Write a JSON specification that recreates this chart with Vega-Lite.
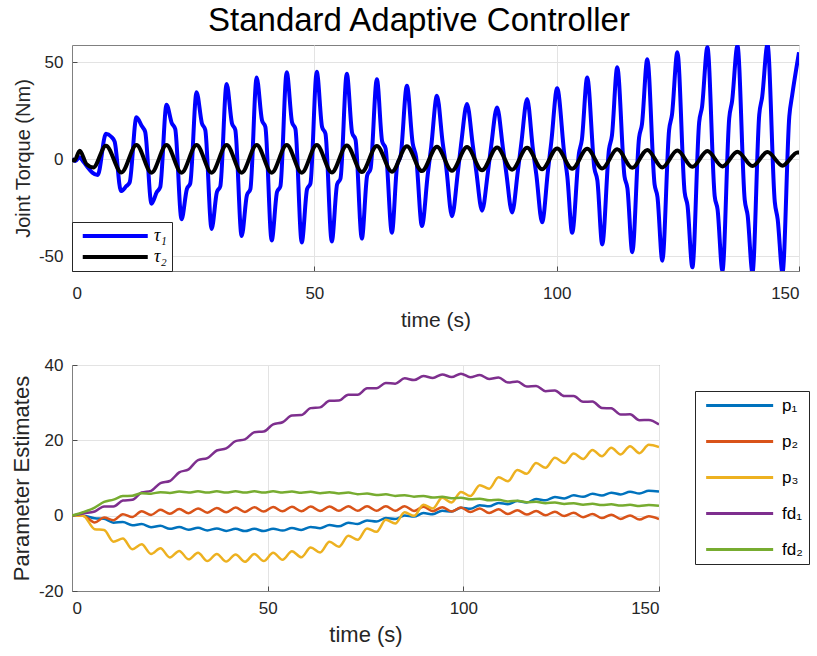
{
  "$schema": "https://vega.github.io/schema/vega-lite/v6.json",
  "background": "white",
  "padding": {"left": 9, "top": 4, "right": 5, "bottom": 5},
  "title": {"text": "Standard Adaptive Controller", "fontSize": 33, "font": "Liberation Sans", "fontWeight": "normal", "color": "#000000", "anchor": "middle", "offset": 7, "dx": 9},
  "config": {
    "font": "Liberation Sans",
    "view": {"stroke": "#808080", "strokeWidth": 1},
    "axis": {"labelFont": "Liberation Sans", "titleFont": "Liberation Sans", "labelFontSize": 17, "titleFontSize": 20, "titleFontWeight": "normal", "labelColor": "#262626", "titleColor": "#262626", "grid": true, "gridColor": "#e3e3e3", "domainColor": "#808080", "ticks": true, "tickSize": -5, "tickColor": "#4d4d4d", "labelPadding": 14},
    "axisX": {"titlePadding": 8},
    "axisY": {"titlePadding": 5}
  },
  "spacing": 24,
  "resolve": {"scale": {"color": "independent"}, "legend": {"color": "independent"}},
  "datasets": {
    "torque": [
      {"s":"τ₁","t":0,"v":0},{"s":"τ₁","t":0.7,"v":-1},{"s":"τ₁","t":1.5,"v":1},{"s":"τ₁","t":2.4,"v":-1.5},{"s":"τ₁","t":3.3,"v":-4.5},{"s":"τ₁","t":4.2,"v":-7},{"s":"τ₁","t":5.3,"v":-8.2},
      {"s":"τ₁","t":7.0,"v":13},{"s":"τ₁","t":8.1,"v":11.5},{"s":"τ₁","t":8.8,"v":9},{"s":"τ₁","t":10.1,"v":-16.5},{"s":"τ₁","t":11.2,"v":-14},{"s":"τ₁","t":11.9,"v":-12},
      {"s":"τ₁","t":13.3,"v":21.6},{"s":"τ₁","t":14.4,"v":17},{"s":"τ₁","t":15.1,"v":14},{"s":"τ₁","t":16.4,"v":-23},{"s":"τ₁","t":17.5,"v":-17},{"s":"τ₁","t":18.2,"v":-14.5},
      {"s":"τ₁","t":19.5,"v":28},{"s":"τ₁","t":20.6,"v":18.5},{"s":"τ₁","t":21.3,"v":15.5},{"s":"τ₁","t":22.6,"v":-31},{"s":"τ₁","t":23.7,"v":-15.5},{"s":"τ₁","t":24.4,"v":-12.5},
      {"s":"τ₁","t":25.7,"v":34.5},{"s":"τ₁","t":26.8,"v":18.5},{"s":"τ₁","t":27.5,"v":15},{"s":"τ₁","t":28.8,"v":-36},{"s":"τ₁","t":29.9,"v":-17},{"s":"τ₁","t":30.6,"v":-14},
      {"s":"τ₁","t":31.9,"v":38.7},{"s":"τ₁","t":33.0,"v":18.5},{"s":"τ₁","t":33.7,"v":15},{"s":"τ₁","t":35.0,"v":-39.7},{"s":"τ₁","t":36.1,"v":-18.5},{"s":"τ₁","t":36.8,"v":-15.5},
      {"s":"τ₁","t":38.1,"v":42},{"s":"τ₁","t":39.2,"v":20},{"s":"τ₁","t":39.9,"v":16.5},{"s":"τ₁","t":41.2,"v":-42},{"s":"τ₁","t":42.3,"v":-17},{"s":"τ₁","t":43.0,"v":-14},
      {"s":"τ₁","t":44.3,"v":44.8},{"s":"τ₁","t":45.4,"v":19},{"s":"τ₁","t":46.1,"v":15.5},{"s":"τ₁","t":47.4,"v":-43},{"s":"τ₁","t":48.5,"v":-15.5},{"s":"τ₁","t":49.2,"v":-12.5},
      {"s":"τ₁","t":50.5,"v":45},{"s":"τ₁","t":51.6,"v":16.5},{"s":"τ₁","t":52.3,"v":13},{"s":"τ₁","t":53.6,"v":-42.5},{"s":"τ₁","t":54.7,"v":-13},{"s":"τ₁","t":55.4,"v":-10},
      {"s":"τ₁","t":56.7,"v":44},{"s":"τ₁","t":57.8,"v":13.5},{"s":"τ₁","t":58.5,"v":10},{"s":"τ₁","t":59.8,"v":-41},{"s":"τ₁","t":60.9,"v":-8.5},{"s":"τ₁","t":61.6,"v":-5},
      {"s":"τ₁","t":62.9,"v":41.2},{"s":"τ₁","t":64.0,"v":9},{"s":"τ₁","t":64.7,"v":5.5},{"s":"τ₁","t":66.0,"v":-38},{"s":"τ₁","t":67.1,"v":-3},{"s":"τ₁","t":67.8,"v":1.5},
      {"s":"τ₁","t":69.1,"v":37.8},{"s":"τ₁","t":70.3,"v":8},{"s":"τ₁","t":71.0,"v":1},{"s":"τ₁","t":72.2,"v":-34.5},{"s":"τ₁","t":73.4,"v":-8},{"s":"τ₁","t":74.1,"v":6},
      {"s":"τ₁","t":75.3,"v":32.6},{"s":"τ₁","t":76.5,"v":8},{"s":"τ₁","t":77.2,"v":-4},{"s":"τ₁","t":78.4,"v":-29.5},{"s":"τ₁","t":79.6,"v":-7},{"s":"τ₁","t":80.3,"v":8},
      {"s":"τ₁","t":81.5,"v":28.4},{"s":"τ₁","t":82.7,"v":7},{"s":"τ₁","t":83.4,"v":-6},{"s":"τ₁","t":84.6,"v":-26.6},{"s":"τ₁","t":85.8,"v":-7},{"s":"τ₁","t":86.5,"v":7},
      {"s":"τ₁","t":87.7,"v":26.6},{"s":"τ₁","t":88.9,"v":6},{"s":"τ₁","t":89.6,"v":-7},{"s":"τ₁","t":90.8,"v":-27.5},{"s":"τ₁","t":92.0,"v":-6},{"s":"τ₁","t":92.7,"v":8},
      {"s":"τ₁","t":93.9,"v":30.9},{"s":"τ₁","t":95.1,"v":5},{"s":"τ₁","t":95.8,"v":-8},{"s":"τ₁","t":97.0,"v":-32.6},{"s":"τ₁","t":98.2,"v":-6},{"s":"τ₁","t":98.9,"v":9},
      {"s":"τ₁","t":100.1,"v":36.5},{"s":"τ₁","t":101.6,"v":2},{"s":"τ₁","t":102.2,"v":-9},{"s":"τ₁","t":103.2,"v":-38},{"s":"τ₁","t":104.6,"v":3},{"s":"τ₁","t":105.2,"v":10},
      {"s":"τ₁","t":106.3,"v":42},{"s":"τ₁","t":107.8,"v":-5},{"s":"τ₁","t":108.4,"v":-11},{"s":"τ₁","t":109.4,"v":-44},{"s":"τ₁","t":110.8,"v":5},{"s":"τ₁","t":111.4,"v":12},
      {"s":"τ₁","t":112.5,"v":47.3},{"s":"τ₁","t":114.0,"v":-9},{"s":"τ₁","t":114.6,"v":-15},{"s":"τ₁","t":115.6,"v":-48},{"s":"τ₁","t":117.0,"v":11},{"s":"τ₁","t":117.6,"v":18},
      {"s":"τ₁","t":118.7,"v":51.5},{"s":"τ₁","t":120.2,"v":-13},{"s":"τ₁","t":120.8,"v":-19.5},{"s":"τ₁","t":121.8,"v":-52.4},{"s":"τ₁","t":123.2,"v":15},{"s":"τ₁","t":123.8,"v":23},
      {"s":"τ₁","t":124.9,"v":55},{"s":"τ₁","t":126.4,"v":-17},{"s":"τ₁","t":127.0,"v":-24},{"s":"τ₁","t":128.0,"v":-55.8},{"s":"τ₁","t":129.4,"v":19},{"s":"τ₁","t":130.0,"v":27},
      {"s":"τ₁","t":131.1,"v":57.6},{"s":"τ₁","t":132.6,"v":-19},{"s":"τ₁","t":133.2,"v":-26},{"s":"τ₁","t":134.2,"v":-57.6},{"s":"τ₁","t":135.6,"v":21},{"s":"τ₁","t":136.2,"v":30},
      {"s":"τ₁","t":137.3,"v":58.4},{"s":"τ₁","t":138.8,"v":-21},{"s":"τ₁","t":139.4,"v":-29},{"s":"τ₁","t":140.4,"v":-58.5},{"s":"τ₁","t":141.8,"v":23},{"s":"τ₁","t":142.4,"v":32},
      {"s":"τ₁","t":143.5,"v":59},{"s":"τ₁","t":145.0,"v":-22},{"s":"τ₁","t":145.6,"v":-31},{"s":"τ₁","t":146.6,"v":-58.5},{"s":"τ₁","t":148.0,"v":22},{"s":"τ₁","t":148.6,"v":33},
      {"s":"τ₁","t":150,"v":55},
      {"s":"τ₂","t":0,"v":0},{"s":"τ₂","t":0.5,"v":-0.8},{"s":"τ₂","t":1.6,"v":4.3},{"s":"τ₂","t":3.0,"v":-2.6},{"s":"τ₂","t":4.4,"v":-4.3},
      {"s":"τ₂","t":7.0,"v":6.9},{"s":"τ₂","t":10.2,"v":-6.9},{"s":"τ₂","t":13.3,"v":7.2},{"s":"τ₂","t":16.4,"v":-7.0},{"s":"τ₂","t":19.5,"v":7.2},{"s":"τ₂","t":22.6,"v":-7.0},
      {"s":"τ₂","t":25.7,"v":7.2},{"s":"τ₂","t":28.8,"v":-7.0},{"s":"τ₂","t":31.9,"v":7.2},{"s":"τ₂","t":35.0,"v":-7.0},{"s":"τ₂","t":38.1,"v":7.2},{"s":"τ₂","t":41.2,"v":-7.0},
      {"s":"τ₂","t":44.3,"v":7.2},{"s":"τ₂","t":47.4,"v":-7.0},{"s":"τ₂","t":50.5,"v":7.2},{"s":"τ₂","t":53.6,"v":-6.9},{"s":"τ₂","t":56.7,"v":7.0},{"s":"τ₂","t":59.8,"v":-6.7},
      {"s":"τ₂","t":62.9,"v":6.8},{"s":"τ₂","t":66.0,"v":-6.5},{"s":"τ₂","t":69.1,"v":6.6},{"s":"τ₂","t":72.2,"v":-6.2},{"s":"τ₂","t":75.3,"v":6.4},{"s":"τ₂","t":78.4,"v":-6.0},
      {"s":"τ₂","t":81.5,"v":6.2},{"s":"τ₂","t":84.6,"v":-5.8},{"s":"τ₂","t":87.7,"v":6.0},{"s":"τ₂","t":90.8,"v":-5.5},{"s":"τ₂","t":93.9,"v":5.8},{"s":"τ₂","t":97.0,"v":-5.2},
      {"s":"τ₂","t":100.1,"v":5.5},{"s":"τ₂","t":103.2,"v":-5.0},{"s":"τ₂","t":106.3,"v":5.3},{"s":"τ₂","t":109.4,"v":-4.8},{"s":"τ₂","t":112.5,"v":5.0},{"s":"τ₂","t":115.6,"v":-4.5},
      {"s":"τ₂","t":118.7,"v":4.7},{"s":"τ₂","t":121.8,"v":-4.3},{"s":"τ₂","t":124.9,"v":4.4},{"s":"τ₂","t":128.0,"v":-4.0},{"s":"τ₂","t":131.1,"v":4.1},{"s":"τ₂","t":134.2,"v":-3.8},
      {"s":"τ₂","t":137.3,"v":3.8},{"s":"τ₂","t":140.4,"v":-3.6},{"s":"τ₂","t":143.5,"v":3.6},{"s":"τ₂","t":146.6,"v":-3.4},{"s":"τ₂","t":149.7,"v":3.4},{"s":"τ₂","t":150,"v":3.4}
    ],
    "params": [
      {"t":0,"p1":0,"p2":0,"p3":0,"fd1":0,"fd2":0},
      {"t":2.8,"p1":0,"p2":0,"p3":0,"fd1":0.6,"fd2":0.9},
      {"t":5.8,"p1":-0.7,"p2":-1.8,"p3":-3.6,"fd1":1.1,"fd2":2.15},
      {"t":8.2,"p1":-0.85,"p2":-0.5,"p3":-3.8,"fd1":2.45,"fd2":3.65},
      {"t":10.6,"p1":-1.85,"p2":-1.2,"p3":-6.9,"fd1":2.45,"fd2":4.25},
      {"t":13.0,"p1":-1.7,"p2":0.4,"p3":-6.05,"fd1":4.0,"fd2":5.2},
      {"t":15.4,"p1":-2.57,"p2":-0.35,"p3":-8.9,"fd1":4.2,"fd2":5.3},
      {"t":17.8,"p1":-2.23,"p2":1.15,"p3":-7.6,"fd1":6.15,"fd2":5.95},
      {"t":20.2,"p1":-3.05,"p2":0.2,"p3":-10.15,"fd1":6.6,"fd2":5.85},
      {"t":22.6,"p1":-2.67,"p2":1.55,"p3":-8.65,"fd1":8.65,"fd2":6.25},
      {"t":25.0,"p1":-3.5,"p2":0.5,"p3":-11.1,"fd1":9.2,"fd2":6.05},
      {"t":27.4,"p1":-3.01,"p2":1.77,"p3":-9.35,"fd1":11.5,"fd2":6.4},
      {"t":29.8,"p1":-3.73,"p2":0.65,"p3":-11.6,"fd1":12.3,"fd2":6.15},
      {"t":32.2,"p1":-3.24,"p2":1.92,"p3":-9.85,"fd1":14.75,"fd2":6.45},
      {"t":34.6,"p1":-3.93,"p2":0.79,"p3":-12.05,"fd1":15.3,"fd2":6.15},
      {"t":37.0,"p1":-3.38,"p2":2.04,"p3":-10.15,"fd1":17.3,"fd2":6.45},
      {"t":39.4,"p1":-4.04,"p2":0.89,"p3":-12.2,"fd1":17.85,"fd2":6.15},
      {"t":41.8,"p1":-3.5,"p2":2.14,"p3":-10.3,"fd1":19.8,"fd2":6.45},
      {"t":44.2,"p1":-4.1,"p2":0.98,"p3":-12.25,"fd1":20.25,"fd2":6.15},
      {"t":46.6,"p1":-3.5,"p2":2.23,"p3":-10.15,"fd1":22.15,"fd2":6.45},
      {"t":49.0,"p1":-4.1,"p2":1.08,"p3":-12.05,"fd1":22.35,"fd2":6.15},
      {"t":51.4,"p1":-3.45,"p2":2.31,"p3":-9.85,"fd1":24.25,"fd2":6.45},
      {"t":53.8,"p1":-3.97,"p2":1.14,"p3":-11.7,"fd1":24.8,"fd2":6.15},
      {"t":56.2,"p1":-3.29,"p2":2.36,"p3":-9.45,"fd1":26.6,"fd2":6.4},
      {"t":58.6,"p1":-3.81,"p2":1.19,"p3":-11.05,"fd1":26.7,"fd2":6.08},
      {"t":61.0,"p1":-2.99,"p2":2.41,"p3":-8.45,"fd1":28.55,"fd2":6.33},
      {"t":63.4,"p1":-3.34,"p2":1.23,"p3":-9.8,"fd1":28.75,"fd2":5.98},
      {"t":65.8,"p1":-2.49,"p2":2.46,"p3":-6.95,"fd1":30.5,"fd2":6.23},
      {"t":68.2,"p1":-2.82,"p2":1.28,"p3":-8.25,"fd1":30.55,"fd2":5.89},
      {"t":70.6,"p1":-1.91,"p2":2.5,"p3":-5.35,"fd1":32.1,"fd2":6.12},
      {"t":73.0,"p1":-2.19,"p2":1.3,"p3":-6.4,"fd1":32.1,"fd2":5.7},
      {"t":75.4,"p1":-1.28,"p2":2.5,"p3":-3.4,"fd1":33.8,"fd2":5.87},
      {"t":77.8,"p1":-1.55,"p2":1.3,"p3":-4.3,"fd1":33.8,"fd2":5.48},
      {"t":80.2,"p1":-0.62,"p2":2.5,"p3":-1.1,"fd1":35.25,"fd2":5.66},
      {"t":82.6,"p1":-0.89,"p2":1.3,"p3":-2.1,"fd1":35.05,"fd2":5.25},
      {"t":85.0,"p1":0.04,"p2":2.5,"p3":0.9,"fd1":36.45,"fd2":5.45},
      {"t":87.4,"p1":-0.24,"p2":1.26,"p3":-0.05,"fd1":36.0,"fd2":5.05},
      {"t":89.8,"p1":0.68,"p2":2.35,"p3":2.9,"fd1":37.05,"fd2":5.24},
      {"t":92.2,"p1":0.39,"p2":1.2,"p3":1.9,"fd1":36.55,"fd2":4.8},
      {"t":94.6,"p1":1.32,"p2":2.25,"p3":4.75,"fd1":37.5,"fd2":5.0},
      {"t":97.0,"p1":1.08,"p2":1.11,"p3":3.5,"fd1":36.8,"fd2":4.6},
      {"t":99.4,"p1":2.12,"p2":2.16,"p3":6.3,"fd1":37.7,"fd2":4.78},
      {"t":101.8,"p1":1.84,"p2":0.95,"p3":5.2,"fd1":36.75,"fd2":4.35},
      {"t":104.2,"p1":2.75,"p2":1.93,"p3":8.1,"fd1":37.35,"fd2":4.5},
      {"t":106.6,"p1":2.47,"p2":0.7,"p3":7.15,"fd1":36.3,"fd2":4.07},
      {"t":109.0,"p1":3.37,"p2":1.68,"p3":10.2,"fd1":36.7,"fd2":4.23},
      {"t":111.4,"p1":3.04,"p2":0.45,"p3":9.15,"fd1":35.35,"fd2":3.78},
      {"t":113.8,"p1":3.9,"p2":1.45,"p3":12.15,"fd1":35.65,"fd2":3.95},
      {"t":116.2,"p1":3.52,"p2":0.3,"p3":11.1,"fd1":34.3,"fd2":3.53},
      {"t":118.6,"p1":4.4,"p2":1.23,"p3":13.95,"fd1":34.45,"fd2":3.71},
      {"t":121.0,"p1":4.07,"p2":0.12,"p3":12.7,"fd1":33.05,"fd2":3.3},
      {"t":123.4,"p1":4.95,"p2":1.02,"p3":15.4,"fd1":33.25,"fd2":3.5},
      {"t":125.8,"p1":4.59,"p2":-0.1,"p3":13.95,"fd1":31.75,"fd2":3.1},
      {"t":128.2,"p1":5.39,"p2":0.75,"p3":16.5,"fd1":31.8,"fd2":3.3},
      {"t":130.6,"p1":5.0,"p2":-0.4,"p3":15.05,"fd1":30.25,"fd2":2.92},
      {"t":133.0,"p1":5.8,"p2":0.45,"p3":17.45,"fd1":30.3,"fd2":3.15},
      {"t":135.4,"p1":5.35,"p2":-0.65,"p3":15.75,"fd1":28.6,"fd2":2.8},
      {"t":137.8,"p1":6.1,"p2":0.25,"p3":18.0,"fd1":28.5,"fd2":3.03},
      {"t":140.2,"p1":5.65,"p2":-0.86,"p3":16.25,"fd1":26.85,"fd2":2.67},
      {"t":142.6,"p1":6.37,"p2":0.05,"p3":18.45,"fd1":26.9,"fd2":2.9},
      {"t":145.0,"p1":5.88,"p2":-1.05,"p3":16.6,"fd1":25.35,"fd2":2.55},
      {"t":147.4,"p1":6.59,"p2":-0.15,"p3":18.8,"fd1":25.4,"fd2":2.8},
      {"t":150,"p1":6.4,"p2":-0.9,"p3":18.2,"fd1":24.2,"fd2":2.6}
    ]
  },
  "vconcat": [
    {
      "width": 727,
      "height": 226,
      "data": {"name": "torque"},
      "mark": {"type": "line", "interpolate": "monotone", "strokeWidth": 4, "clip": true},
      "encoding": {
        "x": {"field": "t", "type": "quantitative", "scale": {"domain": [0, 150], "nice": false}, "axis": {"values": [0, 50, 100, 150], "title": "time (s)", "titleFontSize": 21, "labelPadding": 19}},
        "y": {"field": "v", "type": "quantitative", "scale": {"domain": [-57.7, 58.8], "nice": false, "zero": false}, "axis": {"values": [-50, 0, 50], "title": "Joint Torque (Nm)", "labelPadding": 14, "labelExpr": "replace(datum.label, '−', '-')"}},
        "color": {"field": "s", "type": "nominal", "scale": {"domain": ["τ₁", "τ₂"], "range": ["#0000ff", "#000000"]},
          "legend": {"title": null, "orient": "bottom-left", "offset": 0, "fillColor": "white", "strokeColor": "#262626", "padding": 5, "symbolType": "M-1,0H19", "symbolSize": 42.25, "symbolStrokeWidth": 4, "labelFont": "Liberation Serif", "labelFontStyle": "italic", "labelFontSize": 18, "labelColor": "#000000", "rowPadding": 3, "labelOffset": 59}}
      }
    },
    {
      "width": 587,
      "height": 226,
      "data": {"name": "params"},
      "transform": [{"fold": ["p1", "p2", "p3", "fd1", "fd2"], "as": ["s", "v"]}],
      "mark": {"type": "line", "interpolate": "monotone", "strokeWidth": 2.5, "clip": true},
      "encoding": {
        "x": {"field": "t", "type": "quantitative", "scale": {"domain": [0, 150], "nice": false}, "axis": {"values": [0, 50, 100, 150], "title": "time (s)", "titleFontSize": 22, "labelPadding": 14}},
        "y": {"field": "v", "type": "quantitative", "scale": {"domain": [-20, 40], "nice": false, "zero": false}, "axis": {"values": [-20, 0, 20, 40], "title": "Parameter Estimates", "titleFontSize": 22, "labelPadding": 14, "labelExpr": "replace(datum.label, '−', '-')"}},
        "color": {"field": "s", "type": "nominal", "scale": {"domain": ["p1", "p2", "p3", "fd1", "fd2"], "range": ["#0072BD", "#D95319", "#EDB120", "#7E2F8E", "#77AC30"]},
          "legend": {"title": null, "orient": "none", "legendX": 623, "legendY": 26, "fillColor": "white", "strokeColor": "#262626", "padding": 6, "symbolType": "M-1,0H19", "symbolSize": 44.89, "symbolStrokeWidth": 3, "labelFontSize": 17, "labelColor": "#000000", "rowPadding": 18, "labelOffset": 64,
            "labelExpr": "{'p1': 'p₁', 'p2': 'p₂', 'p3': 'p₃', 'fd1': 'fd₁', 'fd2': 'fd₂'}[datum.label]"}}
      }
    }
  ]
}
